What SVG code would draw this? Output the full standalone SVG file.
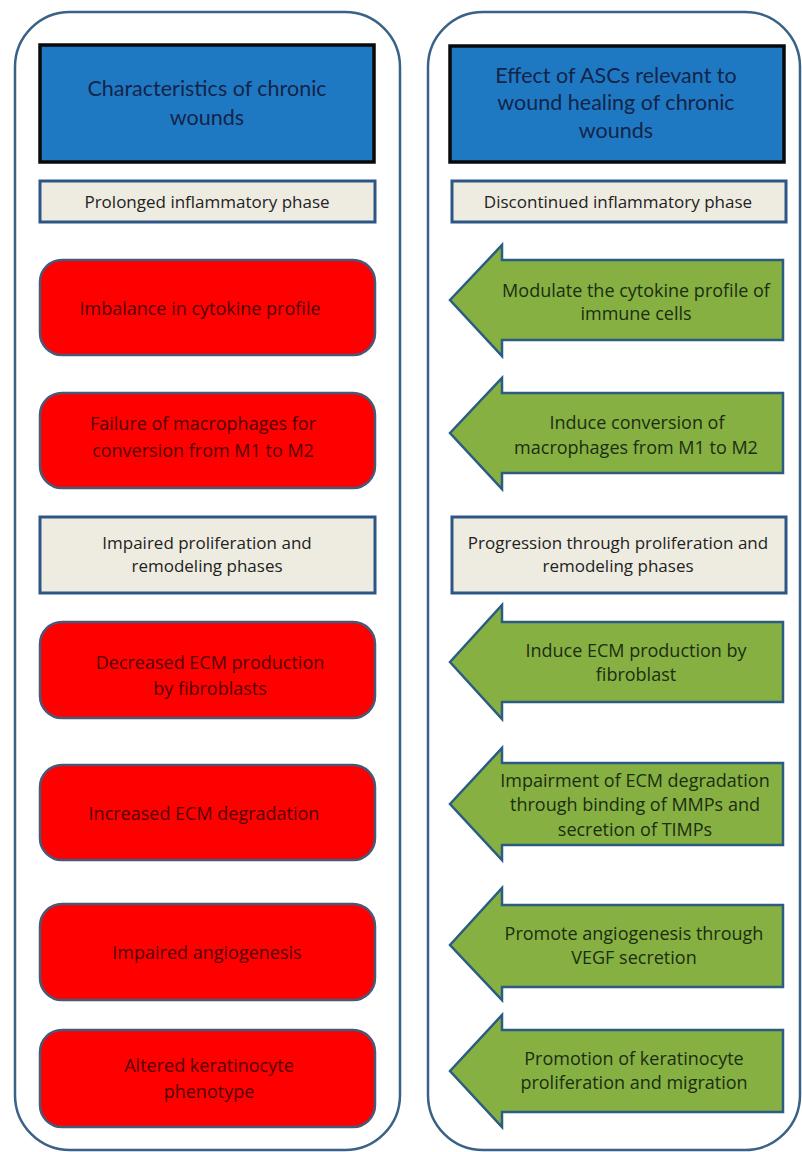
<svg xmlns="http://www.w3.org/2000/svg" width="802" height="1152" viewBox="0 0 802 1152">
<style>
.panel{fill:#ffffff;stroke:#3a6186;stroke-width:2.5}
.head{fill:#1f79c2;stroke:#0a0a0a;stroke-width:3.5}
.phase{fill:#eeece1;stroke:#2c5686;stroke-width:3}
.red{fill:#ff0000;stroke:#4a5878;stroke-width:2.5}
.arrow{fill:#86b042;stroke:#2a5d80;stroke-width:2.5;stroke-linejoin:miter}
text{font-family:"Open Sans","Liberation Sans",sans-serif;font-size:18px;text-anchor:middle}
.ht{font-size:21.5px;fill:#13244a;font-family:Lato,"Open Sans",sans-serif}
.pt{fill:#222222;font-size:17px}
.rt{fill:#520000}
.gt{fill:#1b2e12}
</style>
<rect width="802" height="1152" fill="#ffffff"/>
<g id="panel-left"><rect class="panel" x="15" y="12" width="385" height="1138" rx="55"/></g>
<g id="panel-right"><rect class="panel" x="428" y="12" width="372" height="1138" rx="55"/></g>

<g id="header-left"><rect class="head" x="40" y="45" width="334" height="117"/>
<text class="ht" x="207" y="96">Characteristics of chronic</text>
<text class="ht" x="207" y="125">wounds</text></g>
<g id="header-right"><rect class="head" x="450" y="46" width="334" height="116"/>
<text class="ht" x="616" y="83">Effect of ASCs relevant to</text>
<text class="ht" x="616" y="110">wound healing of chronic</text>
<text class="ht" x="616" y="138">wounds</text></g>

<g id="phase-l1"><rect class="phase" x="40" y="181" width="335" height="41"/>
<text class="pt" x="207" y="208">Prolonged inflammatory phase</text></g>
<g id="phase-r1"><rect class="phase" x="452" y="181" width="334" height="41"/>
<text class="pt" x="618" y="208">Discontinued inflammatory phase</text></g>

<g id="red-1"><rect class="red" x="40" y="260" width="335" height="95" rx="22"/>
<text class="rt" x="200" y="315">Imbalance in cytokine profile</text></g>
<g id="red-2"><rect class="red" x="40" y="393" width="335" height="95" rx="22"/>
<text class="rt" x="203" y="430">Failure of macrophages for</text>
<text class="rt" x="203" y="457">conversion from M1 to M2</text></g>

<g id="phase-l2"><rect class="phase" x="40" y="517" width="335" height="76"/>
<text class="pt" x="207" y="549">Impaired proliferation and</text>
<text class="pt" x="207" y="572">remodeling phases</text></g>
<g id="phase-r2"><rect class="phase" x="452" y="517" width="334" height="76"/>
<text class="pt" x="618" y="549">Progression through proliferation and</text>
<text class="pt" x="618" y="572">remodeling phases</text></g>

<g id="red-3"><rect class="red" x="40" y="622" width="335" height="96" rx="22"/>
<text class="rt" x="210" y="669">Decreased ECM production</text>
<text class="rt" x="210" y="695">by fibroblasts</text></g>
<g id="red-4"><rect class="red" x="40" y="765" width="335" height="95" rx="22"/>
<text class="rt" x="204" y="820">Increased ECM degradation</text></g>
<g id="red-5"><rect class="red" x="40" y="904" width="335" height="96" rx="22"/>
<text class="rt" x="207" y="959">Impaired angiogenesis</text></g>
<g id="red-6"><rect class="red" x="40" y="1030" width="335" height="97" rx="22"/>
<text class="rt" x="209" y="1072">Altered keratinocyte</text>
<text class="rt" x="209" y="1098">phenotype</text></g>

<g id="arrow-1"><path class="arrow" d="M450,300 L502,245 L502,260 L783,260 L783,340 L502,340 L502,356 Z"/>
<text class="gt" x="636" y="297">Modulate the cytokine profile of</text>
<text class="gt" x="636" y="320">immune cells</text></g>
<g id="arrow-2"><path class="arrow" d="M450,433 L502,378 L502,393 L783,393 L783,473 L502,473 L502,489 Z"/>
<text class="gt" x="637" y="429">Induce conversion of</text>
<text class="gt" x="636" y="454">macrophages from M1 to M2</text></g>
<g id="arrow-3"><path class="arrow" d="M450,662 L502,605 L502,622 L783,622 L783,702 L502,702 L502,719 Z"/>
<text class="gt" x="636" y="657">Induce ECM production by</text>
<text class="gt" x="636" y="681">fibroblast</text></g>
<g id="arrow-4"><path class="arrow" d="M450,804 L502,748 L502,763 L783,763 L783,845 L502,845 L502,860 Z"/>
<text class="gt" x="635" y="787">Impairment of ECM degradation</text>
<text class="gt" x="635" y="811">through binding of MMPs and</text>
<text class="gt" x="635" y="836">secretion of TIMPs</text></g>
<g id="arrow-5"><path class="arrow" d="M450,945 L502,888 L502,905 L783,905 L783,987 L502,987 L502,1000 Z"/>
<text class="gt" x="634" y="940">Promote  angiogenesis through</text>
<text class="gt" x="634" y="964">VEGF secretion</text></g>
<g id="arrow-6"><path class="arrow" d="M450,1071 L502,1015 L502,1030 L783,1030 L783,1112 L502,1112 L502,1127 Z"/>
<text class="gt" x="634" y="1065">Promotion  of keratinocyte</text>
<text class="gt" x="634" y="1089">proliferation and migration</text></g>
<g id="connectors"></g>
</svg>
